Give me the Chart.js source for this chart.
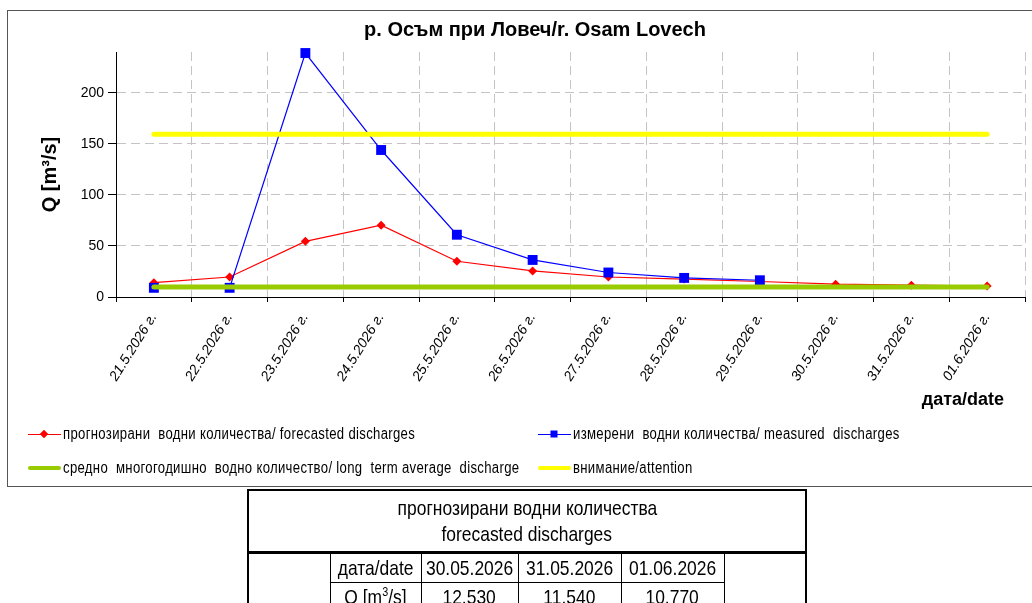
<!DOCTYPE html>
<html>
<head>
<meta charset="utf-8">
<script src="https://cdn.jsdelivr.net/npm/chart.js@4.4.1/dist/chart.umd.min.js"></script>
<style>
  html, body { margin: 0; padding: 0; background: #fff; }
  body { width: 1032px; height: 603px; position: relative; overflow: hidden; font-family: "Liberation Sans", Arial, sans-serif; }
  #frame { position: absolute; left: 7px; top: 10px; width: 1040px; height: 475px; border: 1px solid #555; border-right: none; }
  #chartBox { position: absolute; left: 0; top: 0; width: 1032px; height: 417px; }
  #legend { position: absolute; left: 0; top: 0; width: 1032px; height: 603px; pointer-events: none;
            font-family: "Liberation Sans", Arial, sans-serif; font-size: 16px; color: #000; }
  .item { position: absolute; display: flex; align-items: center; white-space: pre; height: 20px; margin-top: -10px; }
  .item .txt { display: inline-block; transform: scaleX(0.82); transform-origin: left center; letter-spacing: 0.4px; }
  .mk { position: relative; width: 33px; height: 14px; flex: none; margin-right: 2px; }
  .mk .ln { position: absolute; left: 0; right: 0; top: 7px; height: 1px; }
  .mk .ln.thick { height: 4px; top: 5px; border-radius: 2px; }
  .mk .pt { position: absolute; left: 16px; top: 7px; }
  .mk .diamond { width: 6px; height: 6px; transform: translate(-50%, -50%) rotate(45deg); }
  .mk .square { width: 7px; height: 7px; transform: translate(-50%, -50%); }
  #fc { position: absolute; left: 247px; top: 489px; border-collapse: collapse; table-layout: fixed; width: 558px;
        border: 2px solid #000; font-family: "Liberation Sans", Arial, sans-serif; font-size: 21px; color: #000; }
  #fc td { border: 1px solid #000; padding: 0; text-align: center; height: 28px; line-height: 26px; white-space: nowrap; overflow: visible; }
  #fc td.hd { height: 60px; line-height: 26px; border: 2px solid #000; border-bottom: 3px solid #000; }
  #fc td.blank { border-top: 3px solid #000; }
  #fc .sq { display: inline-block; transform: scaleX(0.83); transform-origin: center; margin: 0 -30px; }
  #fc sup { font-size: 13px; line-height: 0; }
</style>
</head>
<body>
<div id="frame"></div>
<div id="chartBox"><canvas id="flowChart"></canvas></div>
<div id="legend"></div>
<table id="fc"></table>

<script>
// р. Осъм при Ловеч - forecasted vs measured discharges
const chartTitle = "р. Осъм при Ловеч/r. Osam Lovech";
const xTitle = "дата/date";
const yTitle = "Q [m³/s]";
const categories = [
  "21.5.2026 г.", "22.5.2026 г.", "23.5.2026 г.", "24.5.2026 г.", "25.5.2026 г.", "26.5.2026 г.",
  "27.5.2026 г.", "28.5.2026 г.", "29.5.2026 г.", "30.5.2026 г.", "31.5.2026 г.", "01.6.2026 г."
];
const forecast = [14, 19.6, 54.5, 70.4, 35, 25.5, 19.6, 17.6, 15.2, 12.53, 11.54, 10.77];
const measured = [9, 9, 239, 144, 61, 36.3, 24, 18.7, 16.4, null, null, null];
const longTermAverage = [9.8, 9.8, 9.8, 9.8, 9.8, 9.8, 9.8, 9.8, 9.8, 9.8, 9.8, 9.8];
const attention = [159.4, 159.4, 159.4, 159.4, 159.4, 159.4, 159.4, 159.4, 159.4, 159.4, 159.4, 159.4];
const yMax = 240;
const yStep = 50;

const forecastLabel  = "прогнозирани  водни количества/ forecasted discharges";
const measuredLabel  = "измерени  водни количества/ measured  discharges";
const averageLabel   = "средно  многогодишно  водно количество/ long  term average  discharge";
const attentionLabel = "внимание/attention";

// small forecast table under the chart
const tableTitle = ["прогнозирани водни количества", "forecasted discharges"];
const tableDates = ["30.05.2026", "31.05.2026", "01.06.2026"];
const tableValues = forecast.slice(-3);

const RED = "#ff0000", BLUE = "#0000ff", GREEN = "#99cc00", YELLOW = "#ffff00";
const FONT = "'Liberation Sans', Arial, sans-serif";

// datasets: first one is painted on top
const datasets = [
  { label: averageLabel, data: longTermAverage, borderColor: GREEN, backgroundColor: GREEN,
    borderWidth: 5, borderCapStyle: "round", pointRadius: 0 },
  { label: attentionLabel, data: attention, borderColor: YELLOW, backgroundColor: YELLOW,
    borderWidth: 5, borderCapStyle: "round", pointRadius: 0 },
  { label: measuredLabel, data: measured, borderColor: BLUE, backgroundColor: BLUE,
    borderWidth: 1.2, pointStyle: "rect", pointRadius: 7, pointBorderWidth: 0, clip: false },
  { label: forecastLabel, data: forecast, borderColor: RED, backgroundColor: RED,
    borderWidth: 1.2, pointStyle: "rectRot", pointRadius: 4.5, pointBorderWidth: 0, clip: false }
];

const gridGray = "#c4c4c4";

// x axis title sits a bit left of the plot's right edge in the original
const xTitlePlugin = {
  id: "xTitle",
  afterDraw(chart) {
    const { ctx } = chart;
    const sx = chart.scales.x;
    ctx.save();
    ctx.font = `bold 18px ${FONT}`;
    ctx.fillStyle = "#000";
    ctx.textAlign = "right";
    ctx.textBaseline = "middle";
    ctx.fillText(xTitle, sx.right - 21, sx.bottom - 17);
    ctx.restore();
  }
};

new Chart(document.getElementById("flowChart"), {
  type: "line",
  data: { labels: categories, datasets },
  plugins: [xTitlePlugin],
  options: {
    responsive: true,
    maintainAspectRatio: false,
    animation: false,
    events: [],
    layout: { padding: { top: 10, left: 40, right: 2, bottom: 0 } },
    elements: { line: { tension: 0 } },
    plugins: {
      legend: { display: false },
      tooltip: { enabled: false },
      title: {
        display: true, text: chartTitle, color: "#000",
        font: { family: FONT, size: 20, weight: "bold" },
        padding: { top: 8, bottom: 10 }
      }
    },
    scales: {
      x: {
        offset: true,
        grid: { offset: true, color: gridGray, tickColor: "#000", tickLength: 5, tickBorderDash: [] },
        border: { color: "#000", width: 1, dash: [9, 5] },
        ticks: {
          color: "#000", autoSkip: false, minRotation: 58, maxRotation: 58, padding: 8,
          font: { family: FONT, size: 14, style: "italic" }
        },
        afterFit: (scale) => { scale.height = 120; }
      },
      y: {
        min: 0, max: yMax,
        grid: { color: gridGray, tickColor: "#000", tickLength: 8, tickBorderDash: [] },
        border: { color: "#000", width: 1, dash: [9, 5] },
        ticks: {
          stepSize: yStep, includeBounds: false, color: "#000", padding: 4,
          font: { family: FONT, size: 14 }
        },
        title: {
          display: true, text: yTitle, color: "#000",
          font: { family: FONT, size: 20, weight: "bold", lineHeight: 1 },
          padding: { top: 0, bottom: 0 }
        },
        afterFit: (scale) => { scale.width = 76; }
      }
    }
  }
});

// legend (two rows, like the original sheet)
function renderLegend() {
  const box = document.getElementById("legend");
  const items = [
    { text: forecastLabel,  color: RED,    kind: "diamond", x: 28,  y: 434 },
    { text: measuredLabel,  color: BLUE,   kind: "square",  x: 538, y: 434 },
    { text: averageLabel,   color: GREEN,  kind: "thick",   x: 28,  y: 468 },
    { text: attentionLabel, color: YELLOW, kind: "thick",   x: 538, y: 468 }
  ];
  box.innerHTML = items.map(it => {
    const line = it.kind === "thick"
      ? `<span class="ln thick" style="background:${it.color}"></span>`
      : `<span class="ln" style="background:${it.color}"></span><span class="pt ${it.kind}" style="background:${it.color}"></span>`;
    return `<div class="item" style="left:${it.x}px;top:${it.y}px"><span class="mk">${line}</span><span class="txt">${it.text}</span></div>`;
  }).join("");
}

function renderTable() {
  const t = document.getElementById("fc");
  const fmt = (v) => Number(v).toFixed(3);
  const cell = (s) => `<td><span class="sq">${s}</span></td>`;
  t.innerHTML = `
    <colgroup><col style="width:82px"><col style="width:91px"><col style="width:97px"><col style="width:103px"><col style="width:103px"><col style="width:82px"></colgroup>
    <tr><td class="hd" colspan="6">${tableTitle.map(s => `<span class="sq">${s}</span>`).join("<br>")}</td></tr>
    <tr><td class="blank" rowspan="2"></td>${cell("дата/date")}${tableDates.map(cell).join("")}<td class="blank" rowspan="2"></td></tr>
    <tr>${cell("Q [m<sup>3</sup>/s]")}${tableValues.map(v => cell(fmt(v))).join("")}</tr>`;
}

renderLegend();
renderTable();
</script>
</body>
</html>
